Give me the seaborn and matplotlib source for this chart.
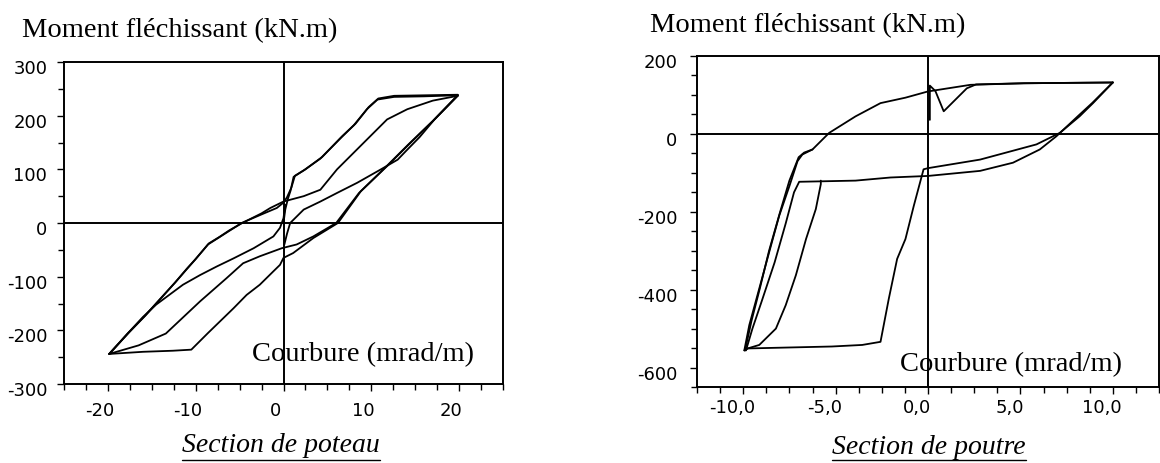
import matplotlib
matplotlib.use("Agg")
import matplotlib.pyplot as plt
import matplotlib.transforms as mtransforms
from matplotlib.lines import Line2D
from matplotlib.ticker import MultipleLocator, FuncFormatter
import seaborn as sns

# ── Section de poteau (curvature mrad/m, moment kN.m) ─────────────────
pot_virgin_x = [0, 0.2, 0.5, 0.8, 1.15, 2.3, 4.2, 6.5, 8.0, 9.5, 10.7, 12.6, 16.0, 19.85]
pot_virgin_y = [0, 25, 45, 60, 86, 98, 120, 158, 182, 212, 230, 235, 236, 238]

pot_unload1_x = [19.85, 17.2, 14.5, 11.8, 8.8, 6.2, 3.4, 1.1, 0, -0.4, -1.15, -2.7, -4.2, -5.7,
                 -8.6, -10.5, -12.6, -16.0, -19.85]
pot_unload1_y = [238, 193, 150, 106, 59, 0, -28, -56, -65, -78, -90, -115, -134, -159,
                 -205, -236, -238, -240, -244]

pot_reload1_x = [-19.85, -17.75, -15.85, -14.13, -12.4, -11.07, -10.1, -8.6, -7.45, -6.3, -4.77,
                 -2.5, -0.76, 0, 0.4, 0.9, 1.3, 2.5, 4.4, 6.7, 8.2, 9.7, 10.8, 12.6, 19.85]
pot_reload1_y = [-244, -206, -174, -143, -112, -87, -69, -40, -28, -16, 0,
                 16, 28, 38, 48, 66, 88, 100, 123, 162, 185, 216, 232, 237, 239]

pot_unload2_x = [19.85, 17.0, 14.2, 11.5, 8.6, 6.0, 3.4, 1.5, -0.2, -2.7, -4.6, -6.5, -9.5,
                 -13.4, -16.5, -19.85]
pot_unload2_y = [238, 190, 146, 102, 56, 0, -25, -40, -47, -62, -75, -103, -146,
                 -206, -228, -244]

pot_reload2_x = [-19.85, -17.6, -15.7, -14.0, -12.3, -11.0, -10.0, -8.5, -7.3, -6.2, -4.7,
                 -2.5, -1.5, 0, 2.3, 4.2, 6.1, 8.0, 9.9, 11.8, 14.1, 17.0, 19.85]
pot_reload2_y = [-244, -204, -172, -141, -110, -85, -67, -38, -26, -14, 0,
                 18, 28, 40, 50, 62, 100, 131, 162, 193, 212, 228, 237]

pot_mid_up_x = [19.85, 17.2, 15.5, 14.0, 13.0, 11.1, 8.4, 6.1, 4.2, 2.3, 0.76, 0.4, 0.1]
pot_mid_up_y = [237, 193, 160, 135, 118, 100, 75, 56, 40, 25, 0, -20, -40]

pot_mid_low_x = [-19.85, -17.7, -16.0, -14.5, -11.45, -9.5, -7.6, -5.7, -3.4, -1.15, -0.4, 0, 0.2]
pot_mid_low_y = [-244, -205, -175, -152, -115, -97, -81, -66, -47, -25, -9, 9, 34]

# ── Section de poutre ─────────────────────────────────────────────────
pou_virgin_x = [0.1, 0.1, 0.4, 0.85, 2.1, 2.6, 5.2, 10.0]
pou_virgin_y = [36, 124, 110, 58, 117, 127, 130, 132]

pou_unload1_x = [10.0, 8.93, 8.2, 7.13, 5.87, 2.82, 0.0, -0.24, -0.77, -1.22, -1.67, -2.12,
                 -2.57, -3.56, -5.2, -9.76, -9.94]
pou_unload1_y = [132, 79, 45, 2.5, -27, -66, -88, -91, -185, -270, -321, -423,
                 -534, -542, -546, -551, -556]

pou_reload1_x = [-9.94, -9.67, -9.13, -8.4, -8.05, -7.5, -7.06, -6.8, -6.25, -5.35, -3.92,
                 -2.57, -1.22, 0.0, 2.3, 5.2, 10.0]
pou_reload1_y = [-556, -491, -397, -270, -210, -134, -70, -53, -40, 2.5, 45,
                 79, 93, 109, 126, 130, 132]

pou_unload2_x = [10.0, 8.9, 8.1, 6.95, 6.05, 4.6, 2.82, 0.0, -2.03, -3.92, -6.97, -7.25,
                 -7.7, -8.3, -9.0, -9.5, -9.85]
pou_unload2_y = [132, 80, 45, -6, -40, -74, -95, -108, -112, -120, -123, -150,
                 -230, -330, -430, -500, -556]

pou_inner_x = [-9.9, -9.76, -9.13, -8.23, -7.7, -7.15, -6.6, -6.07, -5.8, -5.8]
pou_inner_y = [-556, -551, -542, -500, -440, -363, -270, -193, -129, -120]

pou_reload2_x = [-9.9, -9.55, -9.1, -8.6, -8.0, -7.5, -7.0, -6.7, -6.25]
pou_reload2_y = [-556, -480, -397, -300, -200, -120, -60, -48, -40]

pot_loops = [
    (pot_virgin_x, pot_virgin_y), (pot_unload1_x, pot_unload1_y),
    (pot_reload1_x, pot_reload1_y), (pot_unload2_x, pot_unload2_y),
    (pot_reload2_x, pot_reload2_y), (pot_mid_up_x, pot_mid_up_y),
    (pot_mid_low_x, pot_mid_low_y),
]
pou_loops = [
    (pou_virgin_x, pou_virgin_y), (pou_unload1_x, pou_unload1_y),
    (pou_reload1_x, pou_reload1_y), (pou_unload2_x, pou_unload2_y),
    (pou_inner_x, pou_inner_y), (pou_reload2_x, pou_reload2_y),
]

sns.set_style("ticks")
plt.rcParams["font.family"] = ["DejaVu Sans"]
plt.rcParams["axes.unicode_minus"] = False
plt.rcParams["text.color"] = "black"

SERIF = ["Liberation Serif", "DejaVu Serif"]
W, H = 1160, 464

fig = plt.figure(figsize=(11.6, 4.64), dpi=100)
ax1 = fig.add_axes([64 / W, 1 - 385 / H, (503 - 64) / W, (385 - 63) / H])
ax2 = fig.add_axes([697 / W, 1 - 388 / H, (1159 - 697) / W, (388 - 57) / H])


def draw_loops(ax, loops):
    for xs, ys in loops:
        sns.lineplot(x=xs, y=ys, ax=ax, sort=False, estimator=None,
                     color="black", lw=1.3)
    ax.axhline(0, color="black", lw=1.4, zorder=1)
    ax.axvline(0, color="black", lw=1.4, zorder=1)
    for sp in ax.spines.values():
        sp.set_visible(True)
        sp.set_color("black")
        sp.set_linewidth(1.4)
    ax.set_xlabel("")
    ax.set_ylabel("")
    ax.tick_params(which="major", direction="out", length=5, width=1, labelsize=13,
                   colors="black")
    ax.tick_params(which="minor", direction="out", length=4, width=1, colors="black")
    ax.tick_params(axis="x", which="both", top=False)
    ax.tick_params(axis="y", which="both", right=False)


draw_loops(ax1, pot_loops)
ax1.set_xlim(-25, 25)
ax1.set_ylim(-300, 300)
ax1.xaxis.set_major_locator(MultipleLocator(10))
ax1.xaxis.set_minor_locator(MultipleLocator(2.5))
ax1.yaxis.set_major_locator(MultipleLocator(100))
ax1.yaxis.set_minor_locator(MultipleLocator(50))
ax1.xaxis.set_major_formatter(FuncFormatter(lambda v, p: f"{v:.0f}"))
ax1.yaxis.set_major_formatter(FuncFormatter(lambda v, p: f"{v:.0f}"))
ax1.tick_params(axis="x", pad=7)
ax1.tick_params(axis="y", pad=7)

draw_loops(ax2, pou_loops)
ax2.set_xlim(-12.5, 12.5)
ax2.set_ylim(-650, 200)
ax2.xaxis.set_major_locator(MultipleLocator(5))
ax2.xaxis.set_minor_locator(MultipleLocator(1.25))
ax2.yaxis.set_major_locator(MultipleLocator(200))
ax2.yaxis.set_minor_locator(MultipleLocator(50))
ax2.xaxis.set_major_formatter(FuncFormatter(lambda v, p: f"{v:.1f}".replace(".", ",")))
ax2.yaxis.set_major_formatter(FuncFormatter(lambda v, p: f"{v:.0f}"))
ax2.tick_params(axis="x", pad=3)
ax2.tick_params(axis="y", pad=9)

# tick labels sit a little below / left of their ticks in the original
for ax, dx in ((ax1, -8), (ax2, -11)):
    ydown = mtransforms.ScaledTranslation(0, -4 / 100, fig.dpi_scale_trans)
    xleft = mtransforms.ScaledTranslation(dx / 100, 0, fig.dpi_scale_trans)
    for lab in ax.get_yticklabels():
        lab.set_transform(lab.get_transform() + ydown)
    for lab in ax.get_xticklabels():
        lab.set_transform(lab.get_transform() + xleft)

# ── Texts ─────────────────────────────────────────────────────────────
fig.text(22 / W, 1 - 31 / H, "Moment fléchissant (kN.m)", family=SERIF,
         fontsize=20.5, ha="left", va="center")
fig.text(650 / W, 1 - 26 / H, "Moment fléchissant (kN.m)", family=SERIF,
         fontsize=20.5, ha="left", va="center")
fig.text(252 / W, 1 - 355 / H, "Courbure (mrad/m)", family=SERIF,
         fontsize=20.5, ha="left", va="center")
fig.text(900 / W, 1 - 365 / H, "Courbure (mrad/m)", family=SERIF,
         fontsize=20.5, ha="left", va="center")

captions = [
    fig.text(281 / W, 1 - 446 / H, "Section de poteau", family=SERIF, style="italic",
             fontsize=20, ha="center", va="center"),
    fig.text(929 / W, 1 - 448 / H, "Section de poutre", family=SERIF, style="italic",
             fontsize=20, ha="center", va="center"),
]

fig.canvas.draw()
renderer = fig.canvas.get_renderer()
for cap in captions:
    bb = cap.get_window_extent(renderer)
    y_line = 1 - 461 / H
    fig.add_artist(Line2D([bb.x0 / W, bb.x1 / W], [y_line, y_line],
                          transform=fig.transFigure, color="black", lw=1))

fig.savefig("out.png", dpi=100)
plt.close(fig)
